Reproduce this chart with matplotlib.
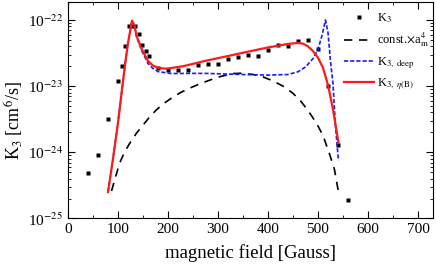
import numpy as np
import matplotlib
matplotlib.use("Agg")
from matplotlib import pyplot as plt
from matplotlib.ticker import FixedLocator, MultipleLocator, NullFormatter

plt.rcParams['font.family'] = ['Liberation Serif', 'DejaVu Serif']
plt.rcParams['mathtext.fontset'] = 'stix'

# measured K3 (points)
b_data = [40, 60, 80, 100, 107, 114, 121, 127, 133, 141, 147, 155, 161, 181, 201,
          221, 241, 261, 281, 300, 321, 341, 361, 381, 401, 421, 441, 461, 481,
          501, 521, 541, 561]
k3_data = [4.9e-25, 9.1e-25, 3.2e-24, 1.2e-23, 2.0e-23, 4.0e-23, 8.0e-23, 8.0e-23,
           8.0e-23, 6.2e-23, 4.2e-23, 3.4e-23, 2.9e-23, 1.9e-23, 1.75e-23,
           1.77e-23, 1.75e-23, 2.1e-23, 2.2e-23, 2.2e-23, 2.55e-23, 2.75e-23,
           3.0e-23, 2.9e-23, 3.55e-23, 4.25e-23, 4.0e-23, 4.8e-23, 5.0e-23,
           3.6e-23, 1.02e-23, 1.3e-24, 1.9e-25]

# const x a_m^4
b_am = [87, 95, 103, 113, 123, 137, 150, 163, 177, 192, 207, 225, 243, 263, 283,
        305, 330, 350, 370, 390, 410, 430, 450, 465, 480, 497, 510, 523, 533, 541]
k_am = [2.6e-25, 4.2e-25, 6.8e-25, 1.0e-24, 1.35e-24, 1.95e-24, 2.57e-24, 3.4e-24,
        4.4e-24, 5.5e-24, 6.6e-24, 8.0e-24, 9.3e-24, 1.08e-23, 1.23e-23,
        1.4e-23, 1.55e-23, 1.57e-23, 1.5e-23, 1.38e-23, 1.2e-23, 1.0e-23,
        7.8e-24, 6.0e-24, 4.3e-24, 2.75e-24, 1.8e-24, 9.5e-25, 5.5e-25, 2.5e-25]

# K3, deep
b_deep = [80, 90, 100, 108, 114, 120, 128, 133, 137, 147, 160, 170, 180, 207, 240,
          273, 300, 350, 400, 440, 460, 475, 490, 500, 508, 515, 520, 525, 530, 535, 541]
k_deep = [2.5e-25, 8.0e-25, 2.8e-24, 8.9e-24, 2.1e-23, 4.5e-23, 9.6e-23, 7.8e-23,
          5.6e-23, 3.5e-23, 2.2e-23, 1.85e-23, 1.66e-23, 1.55e-23, 1.56e-23,
          1.56e-23, 1.54e-23, 1.5e-23, 1.47e-23, 1.5e-23, 1.65e-23, 1.95e-23,
          2.6e-23, 3.6e-23, 5.8e-23, 1.0e-22, 6.5e-23, 2.4e-23, 1.1e-23, 2.5e-24,
          7.5e-25]

# K3, eta(B)
b_eta = [80, 90, 100, 108, 114, 120, 128, 133, 137, 147, 160, 170, 180, 190, 200,
         230, 253, 273, 300, 350, 400, 440, 460, 470, 480, 490, 500, 510, 520, 530, 541]
k_eta = [2.5e-25, 8.0e-25, 2.8e-24, 8.9e-24, 2.1e-23, 4.5e-23, 9.8e-23, 8.2e-23,
         5.8e-23, 3.7e-23, 2.4e-23, 2.05e-23, 1.9e-23, 1.85e-23, 1.85e-23,
         2.0e-23, 2.2e-23, 2.4e-23, 2.65e-23, 3.2e-23, 3.85e-23, 4.35e-23,
         4.5e-23, 4.4e-23, 4.0e-23, 3.4e-23, 2.7e-23, 1.9e-23, 1.05e-23,
         4.5e-24, 1.4e-24]

y_major = [1e-25, 1e-24, 1e-23, 1e-22]
y_labels = ['10$^{-25}$', '10$^{-24}$', '10$^{-23}$', '10$^{-22}$']

fig = plt.figure(figsize=(4.36, 2.67), dpi=100)
ax = fig.add_axes([0.156, 0.182, 0.837, 0.812])

ax.plot(b_data, k3_data, 's', color='black', ms=3.5, mec='none', label='K$_3$')
ax.plot(b_am, k_am, '--', color='black', lw=1.2, dashes=(5, 4),
        label=r'const.$\times$a$_\mathrm{m}^4$')
ax.plot(b_deep, k_deep, '--', color='#1a1aff', lw=1.2, dashes=(2.5, 1.2),
        label=r'K$_\mathrm{3,\ deep}$')
ax.plot(b_eta, k_eta, '-', color='#ff1a1a', lw=1.6, label=r'K$_{\mathrm{3,}\ \eta\mathrm{(B)}}$')

ax.set_yscale('log')
ax.set_xlim(0, 730)
ax.set_ylim(1e-25, 1.9e-22)
ax.xaxis.set_major_locator(MultipleLocator(100))
ax.xaxis.set_minor_locator(MultipleLocator(50))
ax.set_yticks(y_major)
ax.set_yticklabels(y_labels)
minors = [m * d for d in [1e-25, 1e-24, 1e-23, 1e-22] for m in range(2, 10) if m * d < 1.9e-22]
ax.yaxis.set_minor_locator(FixedLocator(minors))
ax.yaxis.set_minor_formatter(NullFormatter())
ax.tick_params(which='both', direction='in', top=True, right=True, labelsize=11)
ax.tick_params(which='major', length=5)
ax.tick_params(which='minor', length=2.5)

ax.set_xlabel('magnetic field [Gauss]', fontsize=13.5, labelpad=6)
ax.set_ylabel('K$_3$ [cm$^6$/s]', fontsize=13)
ax.yaxis.set_label_coords(-0.115, 0.45)

ax.legend(loc='upper left', frameon=False, fontsize=9, handlelength=2.4,
          handletextpad=0.3, labelspacing=0.45, borderpad=0, borderaxespad=0,
          bbox_to_anchor=(0.755, 0.955))

fig.savefig('out.png', dpi=100)
